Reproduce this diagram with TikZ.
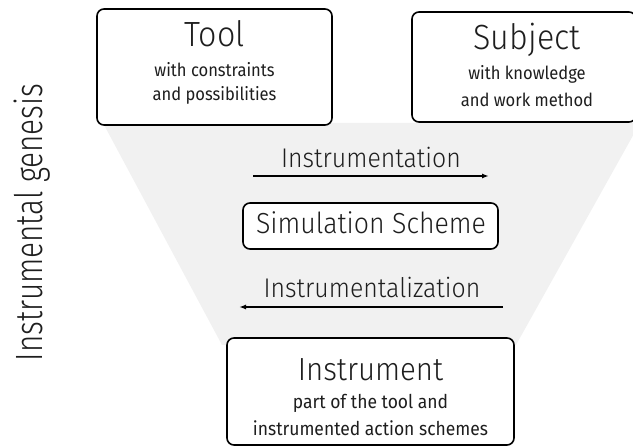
\documentclass[tikz,border=0pt]{standalone}
\usepackage{fontspec}
\setmainfont{Fira Sans}[UprightFont=* Light, FakeStretch=0.92]
\newfontfamily\subfont{Fira Sans}[FakeStretch=0.92]
\newfontfamily\genfont{Fira Sans}[UprightFont=* Light, FakeStretch=0.78]
\usetikzlibrary{arrows.meta}
\definecolor{txt}{HTML}{1E1E1E}
\definecolor{funnel}{HTML}{F1F1F1}
\begin{document}
\begin{tikzpicture}[x=1pt,y=-1pt,
  every node/.style={text=txt, inner sep=0pt},
  box/.style={draw=black, line width=1.6pt, rounded corners=7pt, fill=white},
  title/.style={anchor=base, font=\fontsize{35}{40}\selectfont},
  sub/.style={anchor=base, font=\subfont\fontsize{18}{20}\selectfont},
  mid/.style={anchor=base, font=\fontsize{27}{30}\selectfont},
  flow/.style={line width=1.4pt, -{Latex[length=7pt,width=5pt]}}]
\useasboundingbox (0,0) rectangle (633,446);
% funnel background
\fill[funnel] (103,123) -- (640,123) -- (516,345) -- (222,345) -- cycle;
% boxes
\node[box, minimum width=235pt, minimum height=116pt] (tool) at (214.5,67) {};
\node[box, minimum width=224pt, minimum height=110pt] (subject) at (524,67) {};
\node[box, minimum width=255pt, minimum height=46pt] (sim) at (370.5,226) {};
\node[box, minimum width=287pt, minimum height=107pt] (instr) at (370.5,391.5) {};
% texts in boxes
\node[title] (tooltitle) at (214.5,47) {Tool};
\node[sub] (tools1) at (214.5,77) {with constraints};
\node[sub] (tools2) at (214.5,101) {and possibilities};
\node[title] (subjtitle) at (527,50) {Subject};
\node[sub] (subjs1) at (527,80) {with knowledge};
\node[sub] (subjs2) at (527,107) {and work method};
\node[anchor=base, font=\fontsize{29}{32}\selectfont] (simtext) at (371,234) {Simulation Scheme};
\node[anchor=base, font=\fontsize{32}{36}\selectfont] (instrtitle) at (370.5,381) {Instrument};
\node[anchor=base, font=\subfont\fontsize{19}{22}\selectfont] (instrs1) at (370.5,409) {part of the tool and};
\node[anchor=base, font=\subfont\fontsize{19}{22}\selectfont] (instrs2) at (370.5,436) {instrumented action schemes};
% arrows
\coordinate (a1s) at (253,176);
\coordinate (a1e) at (489,176);
\draw[flow] (a1s) -- (a1e);
\node[mid] (instrumentation) at (371,168) {Instrumentation};
\coordinate (a2s) at (503,307);
\coordinate (a2e) at (239,307);
\draw[flow] (a2s) -- (a2e);
\node[mid] (instrumentalization) at (372,298) {Instrumentalization};
% side label
\node[rotate=90, anchor=base, font=\genfont\fontsize{38}{42}\selectfont] (genesis) at (42,222.5) {Instrumental genesis};
\end{tikzpicture}
\end{document}
